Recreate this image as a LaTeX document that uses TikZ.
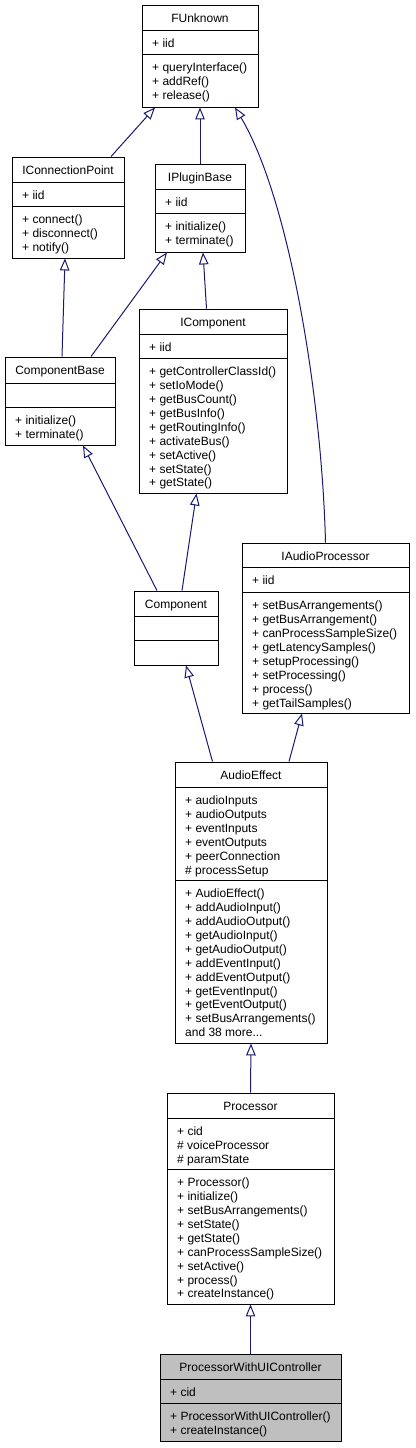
\documentclass[tikz,border=0pt]{standalone}
\usepackage{fontspec}
\setmainfont{Liberation Sans}
\usetikzlibrary{arrows.meta}

\definecolor{linkblue}{RGB}{25,25,112}
\definecolor{focusgray}{RGB}{191,191,191}

\begin{document}
\begin{tikzpicture}[x=1pt,y=-1pt,
    every node/.style={font=\fontsize{12}{13.9}\selectfont, inner sep=0pt},
    classbox/.style={draw, line width=.9pt},
    classtitle/.style={anchor=base},
    members/.style={anchor=base west, align=left}]

  \useasboundingbox (0,0) rectangle (415,1448);

  % class boxes
  \begin{scope}[every node/.append style={classbox}]
    \node[minimum width=116pt, minimum height=102pt] (FUnknown)          at (200,56)      {};
    \node[minimum width=112pt, minimum height=101pt] (IConnectionPoint)  at (68,207.5)    {};
    \node[minimum width=90pt,  minimum height=88pt]  (IPluginBase)       at (200,208)     {};
    \node[minimum width=110pt, minimum height=88pt]  (ComponentBase)     at (60,401)      {};
    \node[minimum width=148pt, minimum height=184pt] (IComponent)        at (213,401)     {};
    \node[minimum width=167pt, minimum height=170pt] (IAudioProcessor)   at (325.5,628)   {};
    \node[minimum width=84pt,  minimum height=74pt]  (Component)         at (176,628)     {};
    \node[minimum width=152pt, minimum height=281pt] (AudioEffect)       at (251,902.5)   {};
    \node[minimum width=167pt, minimum height=211pt] (Processor)         at (250.5,1198.5) {};
    \node[minimum width=181pt, minimum height=87pt, fill=focusgray] (ProcessorWithUI) at (250.5,1397.5) {};
  \end{scope}

  % compartment lines
  \begin{scope}[line width=.9pt]
    \draw (142,30) -- (258,30);   \draw (142,54) -- (258,54);
    \draw (12,182) -- (124,182);  \draw (12,206) -- (124,206);
    \draw (155,189) -- (245,189); \draw (155,213) -- (245,213);
    \draw (5,383) -- (115,383);   \draw (5,407) -- (115,407);
    \draw (139,334) -- (287,334); \draw (139,358) -- (287,358);
    \draw (242,567) -- (409,567); \draw (242,592) -- (409,592);
    \draw (134,616) -- (218,616); \draw (134,640) -- (218,640);
    \draw (175,787) -- (327,787); \draw (175,880) -- (327,880);
    \draw (167,1118) -- (334,1118); \draw (167,1169) -- (334,1169);
    \draw (160,1379) -- (341,1379); \draw (160,1403) -- (341,1403);
  \end{scope}

  % titles
  \begin{scope}[every node/.append style={classtitle}]
    \node (FUnknownT)         at (200,22.5)    {FUnknown};
    \node (IConnectionPointT) at (68,174.5)    {IConnectionPoint};
    \node (IPluginBaseT)      at (200,181.5)   {IPluginBase};
    \node (ComponentBaseT)    at (60,374.5)    {ComponentBase};
    \node (IComponentT)       at (213,326.5)   {IComponent};
    \node (IAudioProcessorT)  at (325.5,560.5) {IAudioProcessor};
    \node (ComponentT)        at (176,608.5)   {Component};
    \node (AudioEffectT)      at (251,779.5)   {AudioEffect};
    \node (ProcessorT)        at (250.5,1110.5) {Processor};
    \node (ProcessorWithUIT)  at (250.5,1371.5) {ProcessorWithUIController};
  \end{scope}

  % attributes and operations (placed at the baseline of the last line)
  \begin{scope}[every node/.append style={members}]
    \node (FUnknownA) at (152,47.7) {+ iid};
    \node (FUnknownO) at (152,99.5) {+ queryInterface()\\+ addRef()\\+ release()};
    \node (IConnectionPointA) at (22,199.7) {+ iid};
    \node (IConnectionPointO) at (22,251.5) {+ connect()\\+ disconnect()\\+ notify()};
    \node (IPluginBaseA) at (165,206.7) {+ iid};
    \node (IPluginBaseO) at (165,244.6) {+ initialize()\\+ terminate()};
    \node (ComponentBaseO) at (15,438.6) {+ initialize()\\+ terminate()};
    \node (IComponentA) at (149,351.7) {+ iid};
    \node (IComponentO) at (149,486.9) {+ getControllerClassId()\\+ setIoMode()\\+ getBusCount()\\+ getBusInfo()\\+ getRoutingInfo()\\+ activateBus()\\+ setActive()\\+ setState()\\+ getState()};
    \node (IAudioProcessorA) at (252,584.7) {+ iid};
    \node (IAudioProcessorO) at (252,707) {+ setBusArrangements()\\+ getBusArrangement()\\+ canProcessSampleSize()\\+ getLatencySamples()\\+ setupProcessing()\\+ setProcessing()\\+ process()\\+ getTailSamples()};
    \node (AudioEffectA) at (185,874.2) {+ audioInputs\\+ audioOutputs\\+ eventInputs\\+ eventOutputs\\+ peerConnection\\\# processSetup};
    \node (AudioEffectO) at (185,1036.7) {+ AudioEffect()\\+ addAudioInput()\\+ addAudioOutput()\\+ getAudioInput()\\+ getAudioOutput()\\+ addEventInput()\\+ addEventOutput()\\+ getEventInput()\\+ getEventOutput()\\+ setBusArrangements()\\and 38 more...};
    \node (ProcessorA) at (177,1163.5) {+ cid\\\# voiceProcessor\\\# paramState};
    \node (ProcessorO) at (177,1297.9) {+ Processor()\\+ initialize()\\+ setBusArrangements()\\+ setState()\\+ getState()\\+ canProcessSampleSize()\\+ setActive()\\+ process()\\+ createInstance()};
    \node (ProcessorWithUIA) at (170,1396.7) {+ cid};
    \node (ProcessorWithUIO) at (170,1434.6) {+ ProcessorWithUIController()\\+ createInstance()};
  \end{scope}

  % inheritance
  \begin{scope}[every edge/.style={draw, linkblue, line width=1pt,
      -{Triangle[open, length=12pt, width=9.5pt]}}]
    \path ([xshift=43pt]IConnectionPoint.north) edge ([xshift=-45pt]FUnknown.south);
    \path (IPluginBase.north) edge (FUnknown.south);
    \path ([xshift=31pt]ComponentBase.north) edge ([xshift=-33pt]IPluginBase.south);
    \path ([xshift=2pt]ComponentBase.north) edge ([xshift=-3pt]IConnectionPoint.south);
    \path ([xshift=-6.5pt]IComponent.north) edge ([xshift=3pt]IPluginBase.south);
    \path ([xshift=-19pt]Component.north) edge ([xshift=23pt]ComponentBase.south);
    \path ([xshift=6pt]Component.north) edge ([xshift=-16.5pt]IComponent.south);
    \path ([xshift=-38.5pt]AudioEffect.north) edge ([xshift=10pt]Component.south);
    \path ([xshift=38pt]AudioEffect.north) edge ([xshift=-23.5pt]IAudioProcessor.south);
    \path (Processor.north) edge (AudioEffect.south);
    \path (ProcessorWithUI.north) edge (Processor.south);
    \path (IAudioProcessor.north) edge[to path={.. controls (322,400) and (290,200) .. (\tikztotarget)}] ([xshift=35pt]FUnknown.south);
  \end{scope}

\end{tikzpicture}
\end{document}
